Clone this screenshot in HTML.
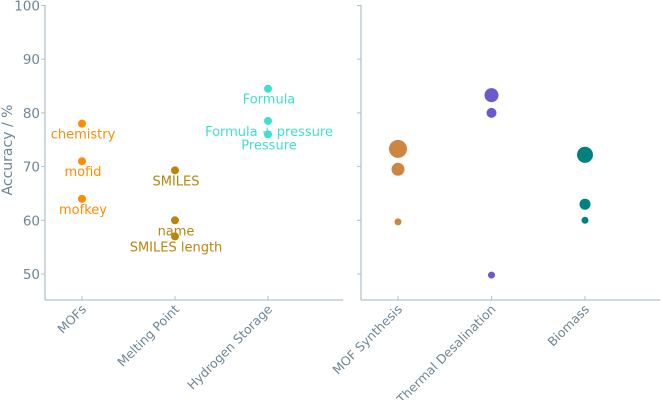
<!DOCTYPE html>
<html><head><meta charset="utf-8"><style>
body{margin:0;background:#fff}
svg{display:block;font-family:"DejaVu Sans","Liberation Sans",sans-serif}
</style></head><body>
<svg id="c" width="661" height="400"></svg>
<script>
const yTicks=[50,60,70,80,90,100];
const leftCats=["MOFs","Melting Point","Hydrogen Storage"];
const leftColors=["#ff8c00","#b8860b","#40e0d0"];
const leftVals=[[78,71,64],[69.3,60,57],[84.5,78.5,76]];
const leftLabels=[["chemistry","mofid","mofkey"],["SMILES","name","SMILES length"],["Formula","Formula + pressure","Pressure"]];
const rightCats=["MOF Synthesis","Thermal Desalination","Biomass"];
const rightColors=["#cd853f","#6a5acd","#008080"];
const rightVals=[[73.3,69.5,59.7],[83.3,80,49.8],[72.2,63,60]];
const rightSizes=[[9,6.5,3.5],[7,5,3.5],[8,5.5,3.5]];
const NS="http://www.w3.org/2000/svg";
const svg=document.getElementById('c');
const ax="#b4c2cd", tc="#6f8595";
function y(v){return 274-(v-50)*5.37;}
function mk(t,a,p){const e=document.createElementNS(NS,t);for(const k in a)e.setAttribute(k,a[k]);(p||svg).appendChild(e);return e;}
function panel(x0,x1,cx,cats,name,showLabels){
  const g=mk('g',{});
  
  
  mk('line',{x1:x0,y1:5,x2:x0,y2:300,stroke:ax,'stroke-width':1.3},g);
  mk('line',{x1:x0,y1:300,x2:x1,y2:300,stroke:ax,'stroke-width':1.3},g);
  yTicks.forEach(t=>{
    mk('line',{x1:x0-4,y1:y(t),x2:x0,y2:y(t),stroke:ax},g);
    if(showLabels){const tx=mk('text',{x:x0-5,y:y(t)+5,'text-anchor':'end','font-size':13.5,fill:tc},g);tx.textContent=t;
      
      }
  });
  cats.forEach((c,i)=>{
    const x=cx(i);
    mk('line',{x1:x,y1:300,x2:x,y2:296,stroke:ax},g);
    const tx=mk('text',{x:0,y:0,'text-anchor':'end','font-size':12.5,fill:tc,transform:`translate(${x+5},${310}) rotate(-45)`},g);
    tx.textContent=c;
    
    
  });
}
const lx=i=>82+i*93, rx=i=>398+i*93.5;
panel(45,343,lx,leftCats,'left',true);
panel(361,660,rx,rightCats,'right',false);
const yt=mk('text',{x:0,y:0,'text-anchor':'middle','font-size':14,fill:tc,transform:'translate(12,150) rotate(-90)'});
yt.textContent='Accuracy / %';


leftVals.forEach((vs,i)=>vs.forEach((v,j)=>{
  const c=mk('circle',{cx:lx(i),cy:y(v),r:4,fill:leftColors[i]});
  
  
  const t=mk('text',{x:lx(i)+1,y:y(v)+15,'text-anchor':'middle','font-size':13,fill:leftColors[i]});
  t.textContent=leftLabels[i][j];
  
  
}));
rightVals.forEach((vs,i)=>vs.forEach((v,j)=>{
  const c=mk('circle',{cx:rx(i),cy:y(v),r:rightSizes[i][j],fill:rightColors[i]});
  
  
}));
</script>
</body></html>
